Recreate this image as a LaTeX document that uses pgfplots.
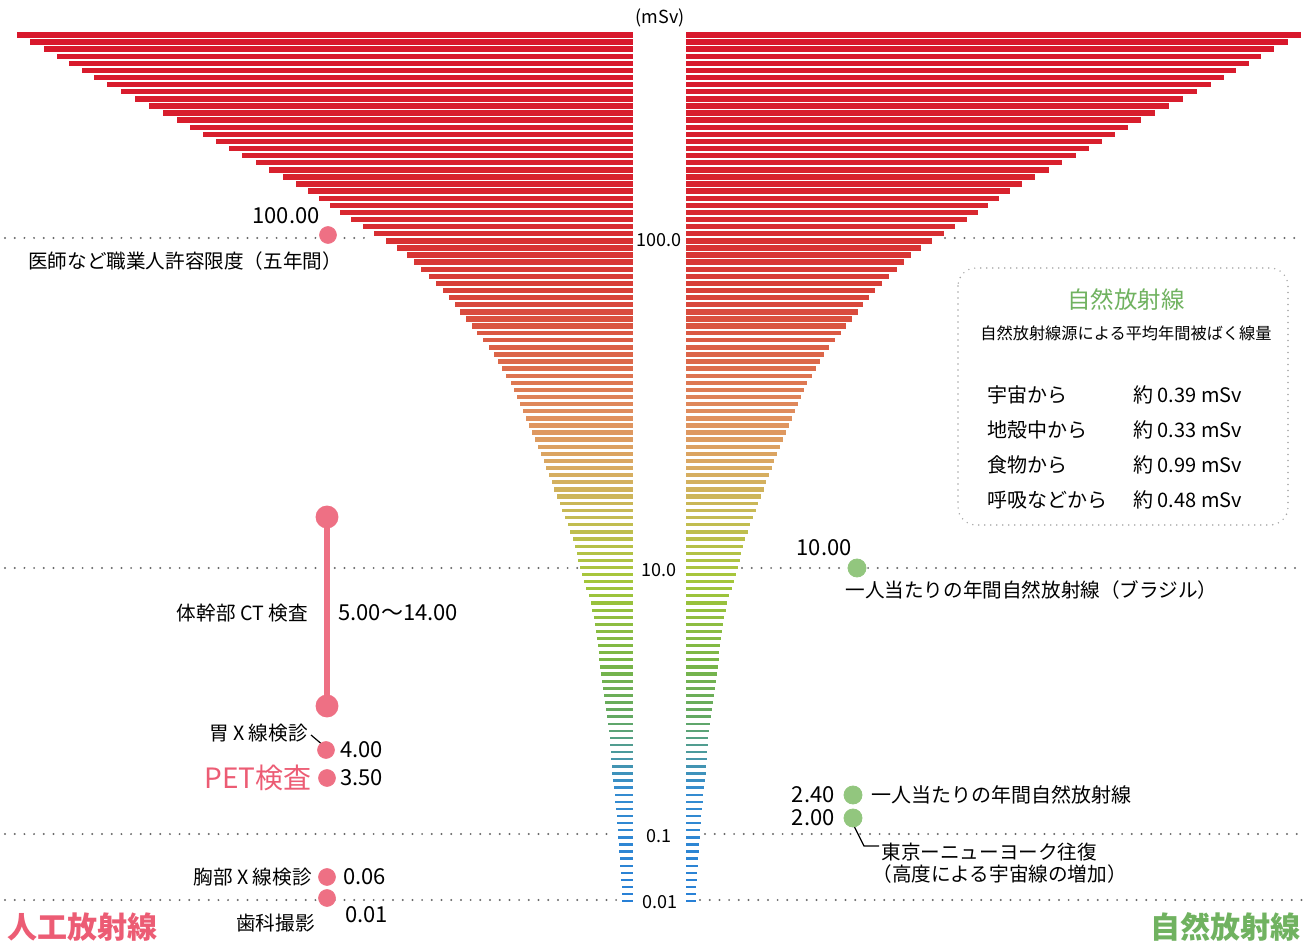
\documentclass[border=0pt]{standalone}
\usepackage{pgfplots}
\pgfplotsset{compat=1.18}
\usepackage{pgfplotstable}
\usepackage{fontspec}
\setmainfont{Noto Sans CJK JP}

\definecolor{pinkdot}{RGB}{238,112,132}
\definecolor{pinktxt}{RGB}{236,92,116}
\definecolor{greendot}{RGB}{146,198,126}
\definecolor{greentxt}{RGB}{112,178,96}
\definecolor{dotgray}{RGB}{105,105,105}

\newcommand{\fs}[1]{\fontsize{#1}{#1}\selectfont}
\tikzset{
  dotl/.style={draw=dotgray, line width=1.1pt, line cap=round, dash pattern=on 0pt off 4.85pt},
}

% funnel stripes: y position (px from top) and half width around x=659
\pgfplotstableread{
y h
35.0 642
42.1 629
49.2 615
56.3 602
63.4 590
70.5 577
77.6 565
84.7 552
91.8 538
98.9 524
106.0 510
113.1 496
120.2 482
127.3 469
134.4 456
141.5 443
148.6 430
155.7 417
162.8 403
169.9 390
177.0 376
184.1 363
191.2 351
198.3 340
205.4 329
212.5 319
219.6 308
226.7 296
233.8 285
240.9 273
248.0 262
255.1 252
262.2 245
269.3 238
276.4 230
283.5 223
290.6 216
297.7 210
304.8 204
311.9 199
319.0 193
326.1 187
333.2 182
340.3 176
347.4 170
354.5 165
361.6 161
368.7 157
375.8 153
382.9 148
390.0 145
397.1 142
404.2 139
411.3 136
418.4 133
425.5 130
432.6 127
439.7 124
446.8 121
453.9 118
461.0 115
468.1 113
475.2 110
482.3 107
489.4 105
496.5 102
503.6 99
510.7 97
517.8 94
524.9 91
532.0 89
539.1 86
546.2 84
553.3 82
560.4 81
567.5 79
574.6 77
581.7 75
588.8 73
595.9 70
603.0 68
610.1 67
617.2 65
624.3 64
631.4 63
638.5 62
645.6 61
652.7 60
659.8 60
666.9 59
674.0 58
681.1 57
688.2 56
695.3 55
702.4 54
709.5 53
716.6 52
723.7 51
730.8 50
737.9 49
745.0 49
752.1 48
759.2 48
766.3 47
773.4 47
780.5 46
787.6 45
794.7 44
801.8 44
808.9 43
816.0 42
823.1 42
830.2 41
837.3 41
844.4 40
851.5 40
858.6 39
865.7 39
872.8 38
879.9 38
887.0 37
894.1 37
901.2 37
}\funnel

\begin{document}
\begin{tikzpicture}[every node/.append style={inner sep=0pt}]
\begin{axis}[
  width=651.5pt, height=470.5pt, scale only axis,
  xmin=0, xmax=1303, ymin=0, ymax=941, y dir=reverse,
  hide axis, clip=false,
  colormap={funnel}{rgb255(0pt)=(216,24,44) rgb255(16.5pt)=(216,36,46)
    rgb255(25.5pt)=(216,64,56) rgb255(32.5pt)=(220,104,74)
    rgb255(38.5pt)=(224,146,96) rgb255(43.5pt)=(216,172,98)
    rgb255(48.5pt)=(196,188,82) rgb255(54.5pt)=(164,198,58)
    rgb255(62.5pt)=(122,182,70) rgb255(68.5pt)=(98,168,100)
    rgb255(72.5pt)=(70,150,170) rgb255(75.5pt)=(52,140,208)
    rgb255(86.7pt)=(40,128,214)},
  point meta min=35, point meta max=902,
]
\coordinate (sw) at (rel axis cs:0,0);
\coordinate (ne) at (rel axis cs:1,1);

% left half of the funnel
\addplot[-, quiver={u=\thisrow{h}-26, v=0, colored, every arrow/.append style={-, line width=2.7pt}},
  point meta=\thisrow{y}, restrict y to domain=0:330] table[x expr=659-\thisrow{h}, y=y] {\funnel};
\addplot[-, quiver={u=\thisrow{h}-26, v=0, colored, every arrow/.append style={-, line width=2.2pt}},
  point meta=\thisrow{y}, restrict y to domain=330:500] table[x expr=659-\thisrow{h}, y=y] {\funnel};
\addplot[-, quiver={u=\thisrow{h}-26, v=0, colored, every arrow/.append style={-, line width=1.6pt}},
  point meta=\thisrow{y}, restrict y to domain=500:700] table[x expr=659-\thisrow{h}, y=y] {\funnel};
\addplot[-, quiver={u=\thisrow{h}-26, v=0, colored, every arrow/.append style={-, line width=1.2pt}},
  point meta=\thisrow{y}, restrict y to domain=700:950] table[x expr=659-\thisrow{h}, y=y] {\funnel};
% right half of the funnel
\addplot[-, quiver={u=\thisrow{h}-27, v=0, colored, every arrow/.append style={-, line width=2.7pt}},
  point meta=\thisrow{y}, restrict y to domain=0:330] table[x expr=686, y=y] {\funnel};
\addplot[-, quiver={u=\thisrow{h}-27, v=0, colored, every arrow/.append style={-, line width=2.2pt}},
  point meta=\thisrow{y}, restrict y to domain=330:500] table[x expr=686, y=y] {\funnel};
\addplot[-, quiver={u=\thisrow{h}-27, v=0, colored, every arrow/.append style={-, line width=1.6pt}},
  point meta=\thisrow{y}, restrict y to domain=500:700] table[x expr=686, y=y] {\funnel};
\addplot[-, quiver={u=\thisrow{h}-27, v=0, colored, every arrow/.append style={-, line width=1.2pt}},
  point meta=\thisrow{y}, restrict y to domain=700:950] table[x expr=686, y=y] {\funnel};

% dotted reference lines (100, 10, 0.1, 0.01)
\addplot[dotl] coordinates {(5,238)(372,238)};
\addplot[dotl] coordinates {(945,238)(1303,238)};
\addplot[dotl] coordinates {(5,568)(578,568)};
\addplot[dotl] coordinates {(742,568)(1303,568)};
\addplot[dotl] coordinates {(5,834)(612,834)};
\addplot[dotl] coordinates {(705,834)(1303,834)};
\addplot[dotl] coordinates {(5,900)(620,900)};
\addplot[dotl] coordinates {(700,900)(1303,900)};

% centre scale
\node[font=\fs{9pt}] at (axis cs:660,18) {(mSv)};
\node[font=\fs{9pt}, fill=white, inner xsep=1pt] at (axis cs:659,240) {100.0};
\node[font=\fs{9pt}, fill=white, inner xsep=1pt] at (axis cs:659,570) {10.0};
\node[font=\fs{9pt}, fill=white, inner xsep=1pt] at (axis cs:659,836) {0.1};
\node[font=\fs{9pt}, fill=white, inner xsep=1pt] at (axis cs:660,902) {0.01};

% artificial radiation (pink)
\addplot[pinkdot, line width=2.6pt, mark=*, mark size=4.4pt] coordinates {(327,517)(327,706)};
\addplot[only marks, mark=*, mark size=4.2pt, pinkdot] coordinates {
  (328,235) (326,750) (327,778) (327,877) (327,898)};
\addplot[black, line width=0.6pt] coordinates {(311,735)(324,746)};

\node[anchor=east, font=\fs{11pt}] at (axis cs:320,216) {100.00};
\node[anchor=west, font=\fs{9.8pt}] at (axis cs:28,261) {医師など職業人許容限度（五年間）};
\node[anchor=east, font=\fs{9.8pt}] at (axis cs:308,613) {体幹部 CT 検査};
\node[anchor=west, font=\fs{11pt}] at (axis cs:338,613) {5.00〜14.00};
\node[anchor=east, font=\fs{9.8pt}] at (axis cs:308,733) {胃 X 線検診};
\node[anchor=west, font=\fs{11pt}] at (axis cs:340,750) {4.00};
\node[anchor=east, font=\fs{14pt}, pinktxt] at (axis cs:312,778) {PET検査};
\node[anchor=west, font=\fs{11pt}] at (axis cs:340,778) {3.50};
\node[anchor=east, font=\fs{9.8pt}] at (axis cs:312,877) {胸部 X 線検診};
\node[anchor=west, font=\fs{11pt}] at (axis cs:343,877) {0.06};
\node[anchor=east, font=\fs{9.8pt}] at (axis cs:315,923) {歯科撮影};
\node[anchor=west, font=\fs{11pt}] at (axis cs:345,915) {0.01};
\node[anchor=west, font=\fs{15pt}\bfseries, pinktxt] at (axis cs:7,927) {人工放射線};

% natural radiation (green)
\addplot[only marks, mark=*, mark size=4.5pt, greendot] coordinates {(857,568) (853,795) (853,818)};
\addplot[black, line width=0.6pt] coordinates {(852,822)(864,846)(879,846)};

\node[anchor=east, font=\fs{11pt}] at (axis cs:852,548) {10.00};
\node[anchor=west, font=\fs{9.8pt}] at (axis cs:845,590) {一人当たりの年間自然放射線（ブラジル）};
\node[anchor=east, font=\fs{11pt}] at (axis cs:835,795) {2.40};
\node[anchor=west, font=\fs{10pt}] at (axis cs:871,795) {一人当たりの年間自然放射線};
\node[anchor=east, font=\fs{11pt}] at (axis cs:835,818) {2.00};
\node[anchor=west, font=\fs{9.8pt}] at (axis cs:881,852) {東京ーニューヨーク往復};
\node[anchor=west, font=\fs{9.8pt}] at (axis cs:872,874) {（高度による宇宙線の増加）};
\node[anchor=east, font=\fs{15pt}\bfseries, greentxt] at (axis cs:1301,927) {自然放射線};

% info box
\draw[draw=gray!70, line width=0.8pt, line cap=round, dash pattern=on 0pt off 3pt, rounded corners=9pt]
  (axis cs:958,268) rectangle (axis cs:1288,525);
\node[font=\fs{11.7pt}, greentxt] at (axis cs:1126,300) {自然放射線};
\node[font=\fs{8.1pt}] at (axis cs:1126,333) {自然放射線源による平均年間被ばく線量};
\node[anchor=west, font=\fs{10pt}] at (axis cs:987,395) {宇宙から};
\node[anchor=west, font=\fs{10pt}] at (axis cs:987,430) {地殻中から};
\node[anchor=west, font=\fs{10pt}] at (axis cs:987,465) {食物から};
\node[anchor=west, font=\fs{10pt}] at (axis cs:987,500) {呼吸などから};
\node[anchor=west, font=\fs{10pt}] at (axis cs:1133,395) {約 0.39 mSv};
\node[anchor=west, font=\fs{10pt}] at (axis cs:1133,430) {約 0.33 mSv};
\node[anchor=west, font=\fs{10pt}] at (axis cs:1133,465) {約 0.99 mSv};
\node[anchor=west, font=\fs{10pt}] at (axis cs:1133,500) {約 0.48 mSv};
\end{axis}
\pgfresetboundingbox
\path (sw) rectangle (ne);
\end{tikzpicture}
\end{document}
